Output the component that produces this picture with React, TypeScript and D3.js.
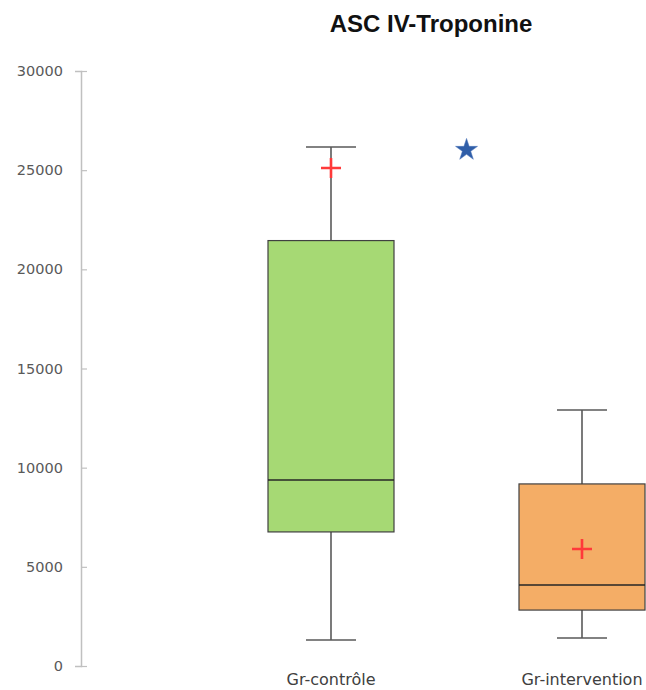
import React, { useEffect, useRef } from 'react';
import * as d3 from 'd3';

const groups = ['Gr-contrôle', 'Gr-intervention'];
const mins = [1310, 1410];
const q1s = [6760, 2820];
const medians = [9380, 4080];
const q3s = [21450, 9180];
const maxs = [26170, 12910];
const means = [25110, 5900];
const fills = ['#a6d974', '#f4ad66'];
const yTicks = [0, 5000, 10000, 15000, 20000, 25000, 30000];
// blue star marker (group position, value)
const starPos = 0.54;
const starValue = 26020;

const App: React.FC = () => {
  const svgRef = useRef<SVGSVGElement>(null);

  useEffect(() => {
    if (!svgRef.current) return;
    const svg = d3.select(svgRef.current);
    svg.selectAll('*').remove();

    const y = d3.scaleLinear().domain([0, 30000]).range([666, 71]);
    const x = d3.scaleLinear().domain([0, 1]).range([331, 582]);
    const boxW = 126;
    const capW = 50;

    // Title
    svg.append('text')
      .attr('x', 431)
      .attr('y', 32)
      .attr('text-anchor', 'middle')
      .attr('font-family', 'Liberation Sans, Arial, sans-serif')
      .attr('font-weight', 'bold')
      .attr('font-size', 24)
      .attr('fill', '#111')
      .text('ASC IV-Troponine');

    // Y axis
    const axis = svg.append('g')
      .attr('transform', 'translate(81,0)')
      .call(d3.axisLeft(y).tickValues(yTicks).tickSize(6).tickPadding(12).tickFormat(d => String(d)));
    axis.select('.domain').attr('stroke', '#c0c0c0').attr('stroke-width', 1.5);
    axis.selectAll('.tick line')
      .attr('stroke', '#c0c0c0')
      .attr('stroke-width', 1.2)
      .attr('x2', 6);
    axis.selectAll('.tick text')
      .attr('fill', '#595959')
      .attr('font-family', 'DejaVu Sans, Verdana, sans-serif')
      .attr('font-size', 14.5);

    const g = svg.append('g');
    groups.forEach((name, i) => {
      const cx = x(i);
      // whiskers
      g.append('line')
        .attr('x1', cx).attr('x2', cx)
        .attr('y1', y(maxs[i])).attr('y2', y(q3s[i]))
        .attr('stroke', '#333').attr('stroke-width', 1.3);
      g.append('line')
        .attr('x1', cx).attr('x2', cx)
        .attr('y1', y(q1s[i])).attr('y2', y(mins[i]))
        .attr('stroke', '#333').attr('stroke-width', 1.3);
      [maxs[i], mins[i]].forEach(v => {
        g.append('line')
          .attr('x1', cx - capW / 2).attr('x2', cx + capW / 2)
          .attr('y1', y(v)).attr('y2', y(v))
          .attr('stroke', '#595959').attr('stroke-width', 1.5);
      });
      // box
      g.append('rect')
        .attr('x', cx - boxW / 2)
        .attr('y', y(q3s[i]))
        .attr('width', boxW)
        .attr('height', y(q1s[i]) - y(q3s[i]))
        .attr('fill', fills[i])
        .attr('stroke', '#404040')
        .attr('stroke-width', 1.2);
      g.append('line')
        .attr('x1', cx - boxW / 2).attr('x2', cx + boxW / 2)
        .attr('y1', y(medians[i])).attr('y2', y(medians[i]))
        .attr('stroke', '#262626').attr('stroke-width', 1.5);
      // mean
      const m = 10;
      const my = y(means[i]);
      g.append('path')
        .attr('d', `M${cx - m},${my}H${cx + m}M${cx},${my - m}V${my + m}`)
        .attr('stroke', '#ff3a3a').attr('stroke-width', 2.6);
      // label
      g.append('text')
        .attr('x', cx)
        .attr('y', 685)
        .attr('text-anchor', 'middle')
        .attr('font-family', 'DejaVu Sans, Verdana, sans-serif')
        .attr('font-size', 16)
        .attr('fill', '#404040')
        .text(name);
    });

    // star
    g.append('path')
      .attr('d', d3.symbol(d3.symbolStar, 150)())
      .attr('transform', `translate(${x(starPos)},${y(starValue)})`)
      .attr('fill', '#2f5ea8')
      .attr('stroke', '#4a72b8')
      .attr('stroke-width', 0.5);
  }, []);

  return (
    <svg
      ref={svgRef}
      width={646}
      height={690}
      style={{ display: 'block', position: 'absolute', left: 0, top: 0 }}
    />
  );
};

export default App;
